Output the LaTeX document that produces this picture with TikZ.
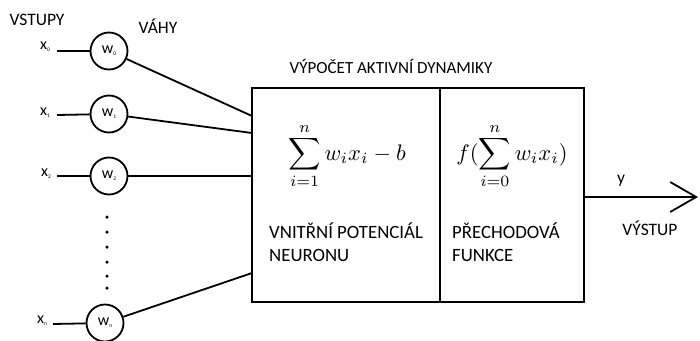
\documentclass[tikz,border=0pt]{standalone}
\usepackage{fontspec}
\setmainfont{Carlito}
\usetikzlibrary{arrows.meta}
\newcommand{\lowidx}[1]{\raisebox{-0.3ex}{\fontsize{5.5}{6}\selectfont #1}}
\newcommand{\bigformula}[1]{\scalebox{2.25}{#1}}
\begin{document}
\begin{tikzpicture}[x=1pt,y=-1pt,
  wire/.style={line width=1.8pt},
  weight/.style={circle,draw,line width=1.8pt,minimum size=37pt,inner sep=0pt,font=\fontsize{16}{18}\selectfont},
  inlabel/.style={font=\fontsize{16}{18}\selectfont},
  caption/.style={font=\fontsize{17.5}{22}\selectfont},
  block/.style={anchor=north west,align=left,inner sep=0pt,font=\fontsize{18.8}{23}\selectfont},
  stage/.style={draw,line width=1.8pt,minimum height=214pt,inner sep=0pt},
  dot/.style={circle,fill,inner sep=0pt,minimum size=3.5pt}]
\useasboundingbox (0,0) rectangle (700,340);

% headings
\node[caption] (hin) at (37,20) {VSTUPY};
\node[caption] (hw) at (158,26) {VÁHY};
\node[caption,font=\fontsize{17}{20}\selectfont] (hcalc) at (391,66) {VÝPOČET AKTIVNÍ DYNAMIKY};

% inputs and weights
\node[inlabel] (x0) at (45,47) {x\lowidx{0}};
\node[inlabel] (x1) at (45,113) {x\lowidx{1}};
\node[inlabel] (x2) at (46,174) {x\lowidx{2}};
\node[inlabel] (xn) at (42,321) {x\lowidx{n}};
\node[weight] (w0) at (109,51) {w\lowidx{0}};
\node[weight] (w1) at (109,114) {w\lowidx{1}};
\node[weight] (w2) at (109,176) {w\lowidx{2}};
\node[weight] (wn) at (105,323) {w\lowidx{n}};

\foreach \i/\y in {1/217,2/232,3/247,4/262,5/276,6/288}
  \node[dot] (d\i) at (107,\y) {};

% the two stages of the neuron
\node[stage,minimum width=188pt] (pot) at (346,195) {};
\node[stage,minimum width=144pt] (act) at (512,195) {};

\node (sum) at (347,156) {\bigformula{$\displaystyle\sum_{i=1}^{n} w_i x_i - b$}};
\node (fun) at (512,156) {\bigformula{$\displaystyle f(\sum_{i=0}^{n} w_i x_i)$}};

\node[block] (tpot) at (269,223) {VNITŘNÍ POTENCIÁL\\NEURONU};
\node[block] (tact) at (452,223) {PŘECHODOVÁ\\FUNKCE};

% free ends of the input stubs
\coordinate (s0) at (57,51);
\coordinate (s1) at (57,115);
\coordinate (s2) at (57,176);
\coordinate (sn) at (53,324);

% entry points on the left side of the first stage
\coordinate (e0) at (252,116);
\coordinate (e1) at (252,133);
\coordinate (e2) at (252,176);
\coordinate (en) at (252,273);

\draw[wire] (s0) -- (w0);
\draw[wire] (s1) -- (w1);
\draw[wire] (s2) -- (w2);
\draw[wire] (sn) -- (wn);

\draw[wire] (w0) -- (e0);
\draw[wire] (w1) -- (e1);
\draw[wire] (w2) -- (e2);
\draw[wire] (wn) -- (en);

% output
\coordinate (out) at (698,197);
\draw[wire,-{Straight Barb[length=26pt,width=30pt,line width=1.8pt]}] (act.east |- out) -- (out);
\node[caption] (ylab) at (621,181) {y};
\node[caption] (tout) at (650,228) {VÝSTUP};
\end{tikzpicture}
\end{document}
